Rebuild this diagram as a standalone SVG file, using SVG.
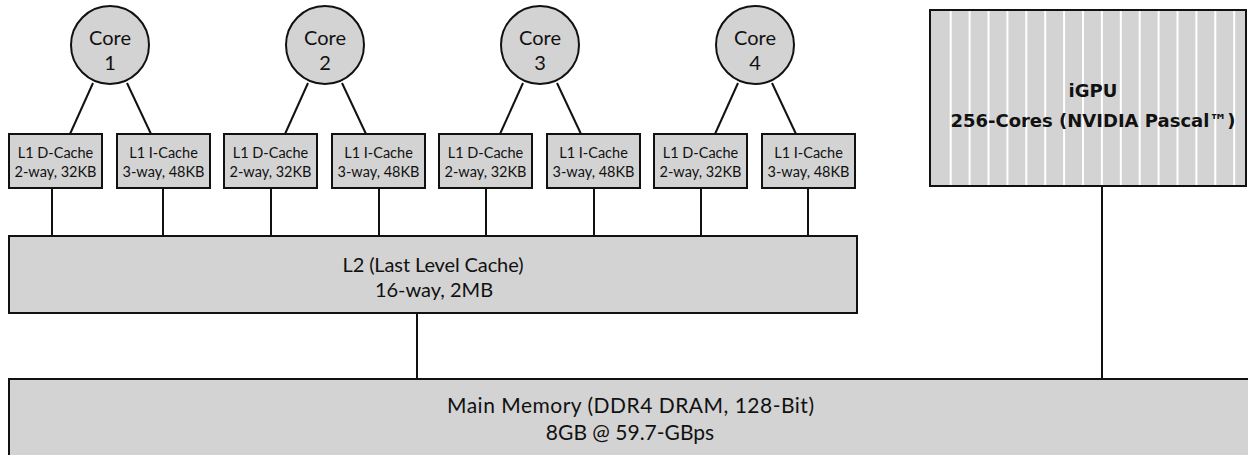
<svg xmlns="http://www.w3.org/2000/svg" width="1248" height="455" viewBox="0 0 1248 455">
  <style>
    .box { fill: #d3d3d3; stroke: #111; stroke-width: 2; }
    .wire { stroke: #111; stroke-width: 2; fill: none; }
    .stripe { stroke: #fff; stroke-width: 2; }
    .t { font-family: Lato, "Open Sans", "Noto Sans", sans-serif; fill: #111; text-anchor: middle; }
    .l1 { font-size: 14.5px; }
    .big { font-size: 20px; }
    .mem { font-size: 21px; }
    .gpu { font-family: "DejaVu Sans", "Liberation Sans", sans-serif; font-weight: bold; font-size: 18px; fill: #111; text-anchor: middle; }
  </style>
  <rect width="1248" height="455" fill="#fff"/>

  <!-- links between cores, caches, memory and GPU -->
  <g id="connectors" class="wire">
    <line x1="93" y1="83" x2="70" y2="134"/>
    <line x1="127" y1="83" x2="151" y2="134"/>
    <line x1="308" y1="83" x2="285" y2="134"/>
    <line x1="342" y1="83" x2="366" y2="134"/>
    <line x1="523" y1="83" x2="500" y2="134"/>
    <line x1="557" y1="83" x2="581" y2="134"/>
    <line x1="738" y1="83" x2="715" y2="134"/>
    <line x1="772" y1="83" x2="796" y2="134"/>
    <line x1="52" y1="188" x2="52" y2="236"/>
    <line x1="163" y1="188" x2="163" y2="236"/>
    <line x1="271" y1="188" x2="271" y2="236"/>
    <line x1="379" y1="188" x2="379" y2="236"/>
    <line x1="486" y1="188" x2="486" y2="236"/>
    <line x1="594" y1="188" x2="594" y2="236"/>
    <line x1="701" y1="188" x2="701" y2="236"/>
    <line x1="808" y1="188" x2="808" y2="236"/>
    <line x1="417" y1="313" x2="417" y2="379"/>
    <line x1="1102" y1="186" x2="1102" y2="379"/>
  </g>

  <!-- CPU cores -->
  <g id="core1"><circle class="box" cx="110" cy="45" r="39"/><text class="t big" x="110" y="45">Core</text><text class="t big" x="110" y="70">1</text></g>
  <g id="core2"><circle class="box" cx="325" cy="45" r="39"/><text class="t big" x="325" y="45">Core</text><text class="t big" x="325" y="70">2</text></g>
  <g id="core3"><circle class="box" cx="540" cy="45" r="39"/><text class="t big" x="540" y="45">Core</text><text class="t big" x="540" y="70">3</text></g>
  <g id="core4"><circle class="box" cx="755" cy="45" r="39"/><text class="t big" x="755" y="45">Core</text><text class="t big" x="755" y="70">4</text></g>

  <!-- per-core L1 caches -->
  <g id="l1d-1"><rect class="box" x="9" y="134" width="93" height="54"/><text class="t l1" x="55.5" y="158">L1 D-Cache</text><text class="t l1" x="55.5" y="177">2-way, 32KB</text></g>
  <g id="l1i-1"><rect class="box" x="117" y="134" width="93" height="54"/><text class="t l1" x="163.5" y="158">L1 I-Cache</text><text class="t l1" x="163.5" y="177">3-way, 48KB</text></g>
  <g id="l1d-2"><rect class="box" x="224" y="134" width="93" height="54"/><text class="t l1" x="270.5" y="158">L1 D-Cache</text><text class="t l1" x="270.5" y="177">2-way, 32KB</text></g>
  <g id="l1i-2"><rect class="box" x="332" y="134" width="93" height="54"/><text class="t l1" x="378.5" y="158">L1 I-Cache</text><text class="t l1" x="378.5" y="177">3-way, 48KB</text></g>
  <g id="l1d-3"><rect class="box" x="439" y="134" width="93" height="54"/><text class="t l1" x="485.5" y="158">L1 D-Cache</text><text class="t l1" x="485.5" y="177">2-way, 32KB</text></g>
  <g id="l1i-3"><rect class="box" x="547" y="134" width="93" height="54"/><text class="t l1" x="593.5" y="158">L1 I-Cache</text><text class="t l1" x="593.5" y="177">3-way, 48KB</text></g>
  <g id="l1d-4"><rect class="box" x="654" y="134" width="93" height="54"/><text class="t l1" x="700.5" y="158">L1 D-Cache</text><text class="t l1" x="700.5" y="177">2-way, 32KB</text></g>
  <g id="l1i-4"><rect class="box" x="762" y="134" width="93" height="54"/><text class="t l1" x="808.5" y="158">L1 I-Cache</text><text class="t l1" x="808.5" y="177">3-way, 48KB</text></g>

  <!-- shared L2 -->
  <g id="l2"><rect class="box" x="9" y="236" width="848" height="77"/><text class="t big" x="433" y="272" textLength="181" lengthAdjust="spacing">L2 (Last Level Cache)</text><text class="t big" x="434" y="297">16-way, 2MB</text></g>

  <!-- integrated GPU with striped core columns -->
  <g id="igpu">
    <rect class="box" x="930" y="10" width="316" height="176"/>
    <g class="stripe">
      <line x1="950.7" y1="11" x2="950.7" y2="185"/>
      <line x1="969.6" y1="11" x2="969.6" y2="185"/>
      <line x1="988.5" y1="11" x2="988.5" y2="185"/>
      <line x1="1007.4" y1="11" x2="1007.4" y2="185"/>
      <line x1="1026.3" y1="11" x2="1026.3" y2="185"/>
      <line x1="1045.2" y1="11" x2="1045.2" y2="185"/>
      <line x1="1064.1" y1="11" x2="1064.1" y2="185"/>
      <line x1="1083" y1="11" x2="1083" y2="185"/>
      <line x1="1101.9" y1="11" x2="1101.9" y2="185"/>
      <line x1="1120.8" y1="11" x2="1120.8" y2="185"/>
      <line x1="1139.7" y1="11" x2="1139.7" y2="185"/>
      <line x1="1158.6" y1="11" x2="1158.6" y2="185"/>
      <line x1="1177.5" y1="11" x2="1177.5" y2="185"/>
      <line x1="1196.4" y1="11" x2="1196.4" y2="185"/>
      <line x1="1215.3" y1="11" x2="1215.3" y2="185"/>
      <line x1="1234.2" y1="11" x2="1234.2" y2="185"/>
    </g>
    <text class="gpu" x="1093" y="97">iGPU</text>
    <text class="gpu" x="1093" y="127">256-Cores (NVIDIA Pascal™)</text>
  </g>

  <!-- main memory -->
  <g id="main-memory"><rect class="box" x="9" y="379" width="1252" height="95"/><text class="t mem" x="630.5" y="413" textLength="367" lengthAdjust="spacing">Main Memory (DDR4 DRAM, 128-Bit)</text><text class="t mem" x="630" y="440">8GB @ 59.7-GBps</text></g>
</svg>
